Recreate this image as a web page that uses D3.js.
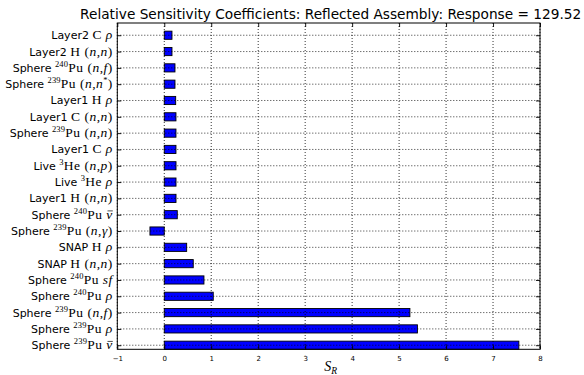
<!DOCTYPE html>
<html>
<head>
<meta charset="utf-8">
<script src="https://cdn.jsdelivr.net/npm/d3@7/dist/d3.min.js"></script>
<style>
  html, body { margin: 0; padding: 0; background: #fff; }
  svg { display: block; }
</style>
</head>
<body>
<svg id="chart" width="584" height="375"></svg>
<script>
// Sensitivity categories, top row first. "|" separates the plain prefix from
// the math part; ^{..} marks a superscript and "~" an overbar on the next symbol.
const categories = [
  "Layer2|C ρ",
  "Layer2|H (n,n)",
  "Sphere|^{240}Pu (n,f)",
  "Sphere|^{239}Pu (n,n^{*})",
  "Layer1|H ρ",
  "Layer1|C (n,n)",
  "Sphere|^{239}Pu (n,n)",
  "Layer1|C ρ",
  "Live|^{3}He (n,p)",
  "Live|^{3}He ρ",
  "Layer1|H (n,n)",
  "Sphere|^{240}Pu ~ν",
  "Sphere|^{239}Pu (n,γ)",
  "SNAP|H ρ",
  "SNAP|H (n,n)",
  "Sphere|^{240}Pu sf",
  "Sphere|^{240}Pu ρ",
  "Sphere|^{239}Pu (n,f)",
  "Sphere|^{239}Pu ρ",
  "Sphere|^{239}Pu ~ν"
];
const sensitivities = [
  0.164, 0.164, 0.228, 0.228, 0.243, 0.249, 0.249, 0.249, 0.25, 0.25,
  0.25, 0.277, -0.305, 0.477, 0.617, 0.845, 1.043, 5.23, 5.39, 7.55
];
const xTicks = [-1, 0, 1, 2, 3, 4, 5, 6, 7, 8];
const titleText = "Relative Sensitivity Coefficients: Reflected Assembly: Response = 129.52";

const SANS = "'DejaVu Sans', sans-serif";
const SERIF = "'Liberation Serif', 'DejaVu Serif', serif";

const svg = d3.select("#chart");
const plotLeft = 117.3, plotRight = 540, plotTop = 23, plotBottom = 349.3;
const nRows = categories.length;

const x = d3.scaleLinear().domain([-1, 8]).range([plotLeft, plotRight]);
const y = d3.scaleLinear().domain([0, nRows]).range([plotBottom, plotTop]);
const barH = 0.5;

// rows counted from the bottom of the axes
const rows = categories.map((c, i) => ({ label: c, value: sensitivities[i], pos: nRows - 1 - i }));
const tickPos = rows.map(r => r.pos + barH / 2);

// bars
svg.append("g").selectAll("rect").data(rows).join("rect")
  .attr("x", d => x(Math.min(0, d.value)))
  .attr("y", d => y(d.pos + barH))
  .attr("width", d => Math.abs(x(d.value) - x(0)))
  .attr("height", d => y(d.pos) - y(d.pos + barH))
  .attr("fill", "#0000ff")
  .attr("stroke", "#000")
  .attr("stroke-width", 0.9);

// dotted grid above the bars
const grid = svg.append("g").attr("stroke", "#000").attr("stroke-width", 0.8)
  .attr("stroke-dasharray", "1,2");
grid.selectAll("line.v").data(xTicks).join("line").attr("class", "v")
  .attr("x1", d => x(d)).attr("x2", d => x(d)).attr("y1", plotTop).attr("y2", plotBottom);
grid.selectAll("line.h").data(tickPos).join("line").attr("class", "h")
  .attr("x1", plotLeft).attr("x2", plotRight).attr("y1", d => y(d)).attr("y2", d => y(d));

// axes with inward ticks on all four sides
function styleAxis(g) {
  g.select(".domain").remove();
  g.selectAll(".tick line").attr("stroke", "#000").attr("stroke-width", 0.9);
}
svg.append("g").attr("transform", `translate(0,${plotBottom})`)
  .call(d3.axisBottom(x).tickValues(xTicks).tickSize(-4).tickPadding(7)
    .tickFormat(d => d < 0 ? "\u2212" + Math.abs(d) : String(d)))
  .call(styleAxis)
  .call(g => g.selectAll("text").attr("font-family", SANS).attr("font-size", 7).attr("fill", "#000"));
svg.append("g").attr("transform", `translate(0,${plotTop})`)
  .call(d3.axisTop(x).tickValues(xTicks).tickSize(-4).tickFormat(() => ""))
  .call(styleAxis);
svg.append("g").attr("transform", `translate(${plotLeft},0)`)
  .call(d3.axisLeft(y).tickValues(tickPos).tickSize(-4).tickFormat(() => ""))
  .call(styleAxis);
svg.append("g").attr("transform", `translate(${plotRight},0)`)
  .call(d3.axisRight(y).tickValues(tickPos).tickSize(-4).tickFormat(() => ""))
  .call(styleAxis);

// frame
svg.append("rect").attr("x", plotLeft).attr("y", plotTop)
  .attr("width", plotRight - plotLeft).attr("height", plotBottom - plotTop)
  .attr("fill", "none").attr("stroke", "#000").attr("stroke-width", 1);

// category labels: plain prefix plus a small math run
const MATH_SIZE = 13.5, SUP_SIZE = 8.5, SUP_RISE = 5;
function writeLabel(text, str) {
  const [prefix, math] = str.split("|");
  text.append("tspan").attr("font-family", SANS).attr("font-size", 11).text(prefix + " ");
  const re = /\^\{([^}]*)\}|([A-Z][a-z]*)|(\s+)|([(),])|(~?.)/gu;
  let m, raised = 0;
  const serif = () => text.append("tspan").attr("font-family", SERIF)
    .attr("font-size", MATH_SIZE).attr("letter-spacing", 0.5);
  const lower = t => { if (raised) { t.attr("dy", raised); raised = 0; } return t; };
  while ((m = re.exec(math)) !== null) {
    if (m[1] !== undefined) {
      text.append("tspan").attr("font-family", SERIF).attr("font-size", SUP_SIZE)
        .attr("letter-spacing", 0.2)
        .attr("dy", raised ? 0 : -SUP_RISE).text(m[1]);
      raised = SUP_RISE;
    } else if (m[2] !== undefined) {
      lower(serif().text(m[2]));
    } else if (m[3] !== undefined) {
      lower(serif().text("\u00a0"));
    } else if (m[4] !== undefined) {
      lower(serif().text(m[4]));
    } else {
      const bar = m[5].startsWith("~");
      const t = lower(serif().attr("font-style", "italic").text(bar ? m[5].slice(1) : m[5]));
      if (bar) t.classed("overbar", true);
    }
  }
}
const labels = svg.append("g").selectAll("text").data(rows).join("text")
  .attr("x", plotLeft - 4.5)
  .attr("y", d => y(d.pos + barH / 2) + 4)
  .attr("text-anchor", "end")
  .attr("fill", "#000")
  .each(function(d) { writeLabel(d3.select(this), d.label); });

// overbars drawn from the glyph extents
labels.selectAll("tspan.overbar").each(function() {
  const box = this.getExtentOfChar(0);
  svg.append("line")
    .attr("x1", box.x + 1.2).attr("x2", box.x + box.width)
    .attr("y1", box.y + box.height * 0.28).attr("y2", box.y + box.height * 0.28)
    .attr("stroke", "#000").attr("stroke-width", 0.7);
});

// title
svg.append("text")
  .attr("x", (plotLeft + plotRight) / 2 + 2).attr("y", 19)
  .attr("text-anchor", "middle")
  .attr("font-family", SANS).attr("font-size", 13.7).attr("fill", "#000")
  .text(titleText);

// x-axis label S_R
const xl = svg.append("text")
  .attr("x", (plotLeft + plotRight) / 2 + 2).attr("y", 371)
  .attr("text-anchor", "middle")
  .attr("font-family", SERIF).attr("fill", "#000");
xl.append("tspan").attr("font-size", 14).attr("font-style", "italic").text("S");
xl.append("tspan").attr("font-size", 9.5).attr("font-style", "italic").attr("dy", 3).text("R");
</script>
</body>
</html>
